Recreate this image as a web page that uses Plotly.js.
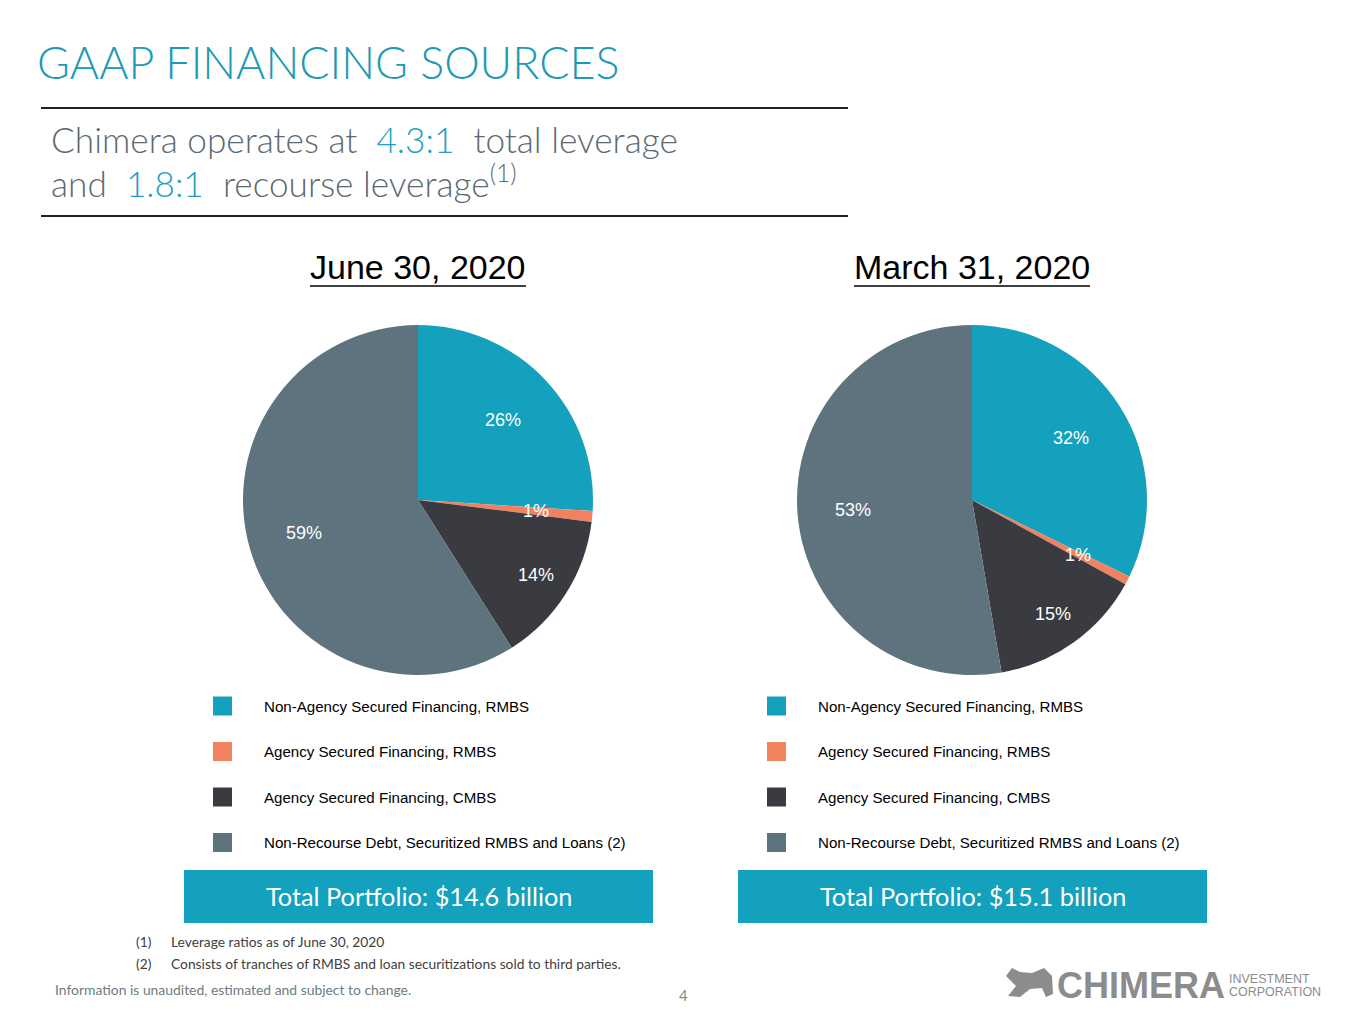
<!DOCTYPE html>
<html>
<head>
<meta charset="utf-8">
<script src="https://cdn.plot.ly/plotly-3.0.1.min.js"></script>
<style>html,body{margin:0;padding:0;background:#fff;}#chart{width:1365px;height:1024px;}</style>
</head>
<body>
<div id="chart"></div>
<script>
// ---- data ----
var categories = ['Non-Agency Secured Financing, RMBS', 'Agency Secured Financing, RMBS', 'Agency Secured Financing, CMBS', 'Non-Recourse Debt, Securitized RMBS and Loans (2)'];
var juneValues = [26, 1, 14, 59];
var juneLabels = ['26%', '1%', '14%', '59%'];
var marchValues = [32.2, 0.8, 14.3, 52.7];
var marchLabels = ['32%', '1%', '15%', '53%'];
var periods = ['June 30, 2020', 'March 31, 2020'];
var totals = ['Total Portfolio: $14.6 billion', 'Total Portfolio: $15.1 billion'];
var footnotes = ['Leverage ratios as of June 30, 2020', 'Consists of tranches of RMBS and loan securitizations sold to third parties.'];

// ---- style ----
var colors = ['#13A1BE', '#F2825F', '#3A3B40', '#5E737E'];
var W = 1365, H = 1024;
function X(p) { return p / W; }
function Y(p) { return 1 - p / H; }
var R = 175;
var pies = [{cx: 418, cy: 500, values: juneValues, labels: juneLabels}, {cx: 972, cy: 500, values: marchValues, labels: marchLabels}];
var labelRadius = [0.67, 0.68, 0.8, 0.68];
var sans = 'Liberation Sans, Arial, sans-serif';
var light = 'Lato, Open Sans, sans-serif';

var data = [];
var annotations = [];
var shapes = [];

function txt(x, y, text, font, xanchor) {
  annotations.push({xref: 'paper', yref: 'paper', showarrow: false, x: X(x), y: Y(y),
    xanchor: xanchor || 'center', yanchor: 'middle', text: text, font: font,
    borderpad: 0, borderwidth: 0});
}

pies.forEach(function (p, i) {
  data.push({
    type: 'pie',
    values: p.values,
    labels: categories,
    sort: false,
    direction: 'clockwise',
    rotation: 0,
    marker: {colors: colors, line: {width: 0}},
    textinfo: 'none',
    hoverinfo: 'label+percent',
    showlegend: false,
    domain: {x: [X(p.cx - R), X(p.cx + R)], y: [Y(p.cy + R), Y(p.cy - R)]}
  });
  // slice labels placed at mid-angle computed from values
  var tot = p.values.reduce(function (a, b) { return a + b; }, 0);
  var cum = 0;
  p.values.forEach(function (v, k) {
    var mid = (cum + v / 2) / tot * 2 * Math.PI;
    cum += v;
    var r = R * labelRadius[k];
    txt(p.cx + r * Math.sin(mid), p.cy - r * Math.cos(mid), p.labels[k], {family: sans, size: 18, color: '#ffffff'});
  });
  // period header
  txt(p.cx, 267, periods[i], {family: sans, size: 34, color: '#000000'});
  var hw = i === 0 ? 108 : 118;
  shapes.push({type: 'line', xref: 'paper', yref: 'paper', x0: X(p.cx - hw), x1: X(p.cx + hw), y0: Y(286), y1: Y(286), line: {color: '#000', width: 1.5}});
  // legend
  var lx = p.cx - 205;
  categories.forEach(function (c, k) {
    var ly = 706 + k * 45.5;
    shapes.push({type: 'rect', xref: 'paper', yref: 'paper', x0: X(lx), x1: X(lx + 19), y0: Y(ly + 9.5), y1: Y(ly - 9.5), fillcolor: colors[k], line: {width: 0}});
    txt(lx + 51, ly, c, {family: sans, size: 15.1, color: '#000000'}, 'left');
  });
  // total box
  shapes.push({type: 'rect', xref: 'paper', yref: 'paper', x0: X(p.cx - 234), x1: X(p.cx + 235), y0: Y(923), y1: Y(870), fillcolor: '#13A1BE', line: {width: 0}});
  txt(p.cx + 1, 896, totals[i], {family: light, size: 25.3, color: '#ffffff'});
});

// title + subtitle
txt(37, 62, 'GAAP FINANCING SOURCES', {family: light, size: 44.8, color: '#1C9AB4', weight: 300}, 'left');
txt(51, 139, 'Chimera operates at  <span style="color:#22A0BE">4.3:1</span>  total leverage', {family: light, size: 35.2, color: '#5D6A72', weight: 300}, 'left');
txt(51, 181, 'and  <span style="color:#22A0BE">1.8:1</span>  recourse leverage<sup>(1)</sup>', {family: light, size: 35.2, color: '#5D6A72', weight: 300}, 'left');
shapes.push({type: 'line', xref: 'paper', yref: 'paper', x0: X(41), x1: X(848), y0: Y(108), y1: Y(108), line: {color: '#222', width: 2}});
shapes.push({type: 'line', xref: 'paper', yref: 'paper', x0: X(41), x1: X(848), y0: Y(216), y1: Y(216), line: {color: '#222', width: 2}});

// footnotes
footnotes.forEach(function (f, k) {
  var fy = 941 + k * 22;
  txt(136, fy, '(' + (k + 1) + ')', {family: light, size: 13.8, color: '#404040'}, 'left');
  txt(171, fy, f, {family: light, size: 13.8, color: '#404040'}, 'left');
});
txt(55, 989, 'Information is unaudited, estimated and subject to change.', {family: light, size: 13.9, color: '#6E7B83'}, 'left');
txt(683, 995, '4', {family: light, size: 15, color: '#8A8A8A'});

// logo
txt(1057, 985, '<b>CHIMERA</b>', {family: sans, size: 36, color: '#8C8C8C'}, 'left');
txt(1229, 978.5, 'INVESTMENT', {family: sans, size: 12.5, color: '#8C8C8C'}, 'left');
txt(1229, 992, 'CORPORATION', {family: sans, size: 12.5, color: '#8C8C8C'}, 'left');
shapes.push({type: 'path', xref: 'paper', yref: 'paper', fillcolor: '#8C8C8C', line: {width: 0},
  path: ['M', X(1006), Y(976), 'L', X(1012), Y(968), 'L', X(1020), Y(972), 'L', X(1032), Y(973), 'L', X(1044), Y(968), 'L', X(1052), Y(976), 'L', X(1053), Y(994), 'L', X(1046), Y(997), 'L', X(1042), Y(988), 'L', X(1030), Y(989), 'L', X(1020), Y(997), 'L', X(1008), Y(996), 'L', X(1016), Y(986), 'Z'].join(' ')});

var layout = {
  width: W, height: H,
  margin: {l: 0, r: 0, t: 0, b: 0},
  paper_bgcolor: '#ffffff',
  showlegend: false,
  annotations: annotations,
  shapes: shapes
};
Plotly.newPlot('chart', data, layout, {displayModeBar: false, staticPlot: true});
</script>
</body>
</html>
